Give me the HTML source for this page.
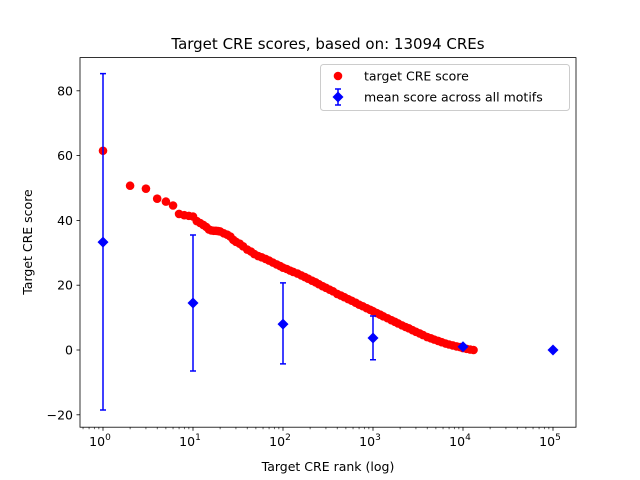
<!DOCTYPE html>
<html><head><meta charset="utf-8"><style>
html,body{margin:0;padding:0;background:#fff;}
svg{display:block;font-family:"DejaVu Sans","Liberation Sans",sans-serif;}
</style></head><body>
<svg id="chart" width="640" height="480" viewBox="0 0 640 480"></svg>
<script>
const redRanks=[1,2,3,4,5,6,7,8,9,10,11,12,13,14,15,16,17,18,19,20,22,24,26,28,30,33,36,40,44,48,53,58,64,70,77,85,93,100,110,120,130,145,160,175,190,210,230,250,275,300,330,360,400,440,480,530,580,640,700,770,850,930,1000,1100,1200,1300,1450,1600,1750,1900,2100,2300,2500,2750,3000,3300,3600,4000,4400,4800,5300,5800,6400,7000,7700,8500,9300,10000,11000,12000,13094];
const redScores=[61.5,50.7,49.8,46.7,45.8,44.6,42.0,41.6,41.4,41.2,39.8,39.2,38.6,38.0,37.2,36.9,36.8,36.8,36.7,36.6,36.0,35.6,35.0,34.0,33.4,32.8,32.0,31.0,30.4,29.6,29.0,28.6,28.1,27.6,27.0,26.4,25.9,25.4,25.0,24.5,24.1,23.6,23.0,22.5,22.0,21.4,20.9,20.3,19.7,19.2,18.6,18.1,17.3,16.8,16.3,15.7,15.2,14.6,14.0,13.5,12.9,12.4,12.0,11.4,10.9,10.4,9.8,9.2,8.7,8.2,7.6,7.1,6.7,6.1,5.6,5.1,4.6,4.0,3.6,3.2,2.8,2.4,2.0,1.7,1.4,1.1,0.9,0.6,0.35,0.15,0];
const blueRanks=[1,10,100,1000,10000,100000];
const blueMeans=[33.3,14.5,8.0,3.7,1.0,0];
const blueUpper=[85.3,35.5,20.7,10.5,1.5,0];
const blueLower=[-18.5,-6.5,-4.3,-3.0,0.5,0];
const xTicks=[0,1,2,3,4,5];
const yTicks=[-20,0,20,40,60,80];

const NS="http://www.w3.org/2000/svg";
const svg=document.getElementById('chart');
const L=80,R=576,T=57.6,B=427.2;
function xs(r){return 103+Math.log10(r)*90;}
function ys(v){return 350-v*3.24;}
function mk(tag,attrs,parent){const e=document.createElementNS(NS,tag);for(const k in attrs)e.setAttribute(k,attrs[k]);(parent||svg).appendChild(e);return e;}

const title=mk('text',{x:328,y:49,'text-anchor':'middle','font-size':'15'});
title.textContent='Target CRE scores, based on: 13094 CREs';



const redG=mk('g',{});


redRanks.forEach((r,i)=>{
  const c=mk('circle',{cx:xs(r),cy:ys(redScores[i]),r:4.3,fill:'#ff0000'},redG);
  
  
});
const blueG=mk('g',{});


blueRanks.forEach((r,i)=>{
  const x=xs(r);
  const y1=ys(blueUpper[i]),y2=ys(blueLower[i]);
  const ln=mk('path',{d:`M${x},${y1}V${y2}M${x-3},${y1}H${x+3}M${x-3},${y2}H${x+3}`,stroke:'#0000ff','stroke-width':1.5,fill:'none'},blueG);
  
  
  const y=ys(blueMeans[i]);
  const d=mk('polygon',{points:`${x},${y-5.5} ${x+5.5},${y} ${x},${y+5.5} ${x-5.5},${y}`,fill:'#0000ff'},blueG);
  
  
});

const frame=mk('rect',{x:L,y:T,width:R-L,height:B-T,fill:'none',stroke:'#000','stroke-width':0.8});



xTicks.forEach(p=>{
  const x=xs(Math.pow(10,p));
  mk('line',{x1:x,x2:x,y1:B,y2:B+3.5,stroke:'#000','stroke-width':0.8});
  const t=mk('text',{x:x-3,y:B+19,'text-anchor':'middle','font-size':'12.5'});
  
  
  t.appendChild(document.createTextNode('10'));
  const s=mk('tspan',{dy:-6,'font-size':'9'},t);s.textContent=String(p);
  for(let k=2;k<=9&&p<5;k++){
    const xm=xs(k*Math.pow(10,p));
    mk('line',{x1:xm,x2:xm,y1:B,y2:B+2,stroke:'#000','stroke-width':0.6});
  }
});
[0.6,0.7,0.8,0.9].forEach(v=>{const xm=xs(v);mk('line',{x1:xm,x2:xm,y1:B,y2:B+2,stroke:'#000','stroke-width':0.6});});
[2e5].forEach(v=>{const xm=xs(v);if(xm<R)mk('line',{x1:xm,x2:xm,y1:B,y2:B+2,stroke:'#000','stroke-width':0.6});});

yTicks.forEach(v=>{
  const y=ys(v);
  mk('line',{x1:L-3.5,x2:L,y1:y,y2:y,stroke:'#000','stroke-width':0.8});
  const t=mk('text',{x:L-7,y:y+4.5,'text-anchor':'end','font-size':'12.5'});
  t.textContent=(v<0?'\u2212'+(-v):String(v));
  
  
});

const xl=mk('text',{x:328,y:471,'text-anchor':'middle','font-size':'12.5'});
xl.textContent='Target CRE rank (log)';


const yl=mk('text',{x:0,y:0,'text-anchor':'middle','font-size':'12.5','transform':'translate(32,242) rotate(-90)'});
yl.textContent='Target CRE score';



const lg=mk('g',{});


mk('rect',{x:320.5,y:64.5,width:249,height:46,rx:3,fill:'#fff',stroke:'#ccc','stroke-width':1},lg);
const e1=mk('g',{},lg);


mk('circle',{cx:338,cy:76,r:4.3,fill:'#ff0000'},e1);
const t1=mk('text',{x:364,y:80.5,'font-size':'12.5'},e1);t1.textContent='target CRE score';
const e2=mk('g',{},lg);


mk('path',{d:'M338,89V105M335,89H341M335,105H341',stroke:'#0000ff','stroke-width':1.5,fill:'none'},e2);
mk('polygon',{points:'338,91.5 343.5,97 338,102.5 332.5,97',fill:'#0000ff'},e2);
const t2=mk('text',{x:364,y:101.5,'font-size':'12.5'},e2);t2.textContent='mean score across all motifs';
</script>
</body></html>
